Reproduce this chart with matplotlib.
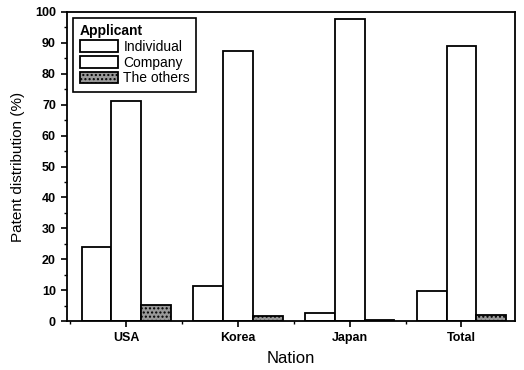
import matplotlib
matplotlib.use("Agg")
import matplotlib.pyplot as plt
import numpy as np
from matplotlib.ticker import MultipleLocator

plt.rcParams['font.family'] = ['Liberation Sans', 'DejaVu Sans']
plt.rcParams['hatch.linewidth'] = 1.0

nations = ["USA", "Korea", "Japan", "Total"]
individual = [24.0, 11.3, 2.5, 9.9]
company = [71.3, 87.2, 97.6, 89.0]
others = [5.2, 1.8, 0.3, 2.0]

fig = plt.figure(figsize=(5.24, 3.70), dpi=100)
ax = fig.add_axes([0.128, 0.132, 0.855, 0.836])

x = np.arange(len(nations))
w = 0.266
ax.bar(x - w, individual, w, color="white", edgecolor="black", lw=1.3, label="Individual")
ax.bar(x, company, w, color="white", edgecolor="black", lw=1.3, label="Company")
ax.bar(x + w, others, w, color="0.6", edgecolor="black", lw=1.3, hatch="....", label="The others")

ax.set_xlim(-0.53, 3.48)
ax.set_ylim(0, 100)
ax.set_xticks(x)
ax.set_xticklabels(nations, fontweight="bold", fontsize=9)
ax.xaxis.set_minor_locator(MultipleLocator(0.5))
ax.yaxis.set_major_locator(MultipleLocator(10))
ax.yaxis.set_minor_locator(MultipleLocator(5))
for lab in ax.get_yticklabels():
    lab.set_fontweight("bold")
    lab.set_fontsize(9)
ax.tick_params(which="major", direction="out", length=4, width=1.2, pad=4)
ax.tick_params(which="minor", direction="out", length=2, width=1)
for s in ax.spines.values():
    s.set_linewidth(1.3)

ax.set_xlabel("Nation", fontsize=12, labelpad=5)
ax.set_ylabel("Patent distribution (%)", fontsize=11, labelpad=7)

leg = ax.legend(loc="upper left", title="Applicant", fontsize=10, fancybox=False,
                edgecolor="black", handlelength=2.8, handleheight=0.9,
                borderaxespad=0.45, labelspacing=0.12, handletextpad=0.35,
                borderpad=0.45, alignment="left")
leg.get_title().set_fontweight("bold")
leg.get_title().set_fontsize(10)
leg.get_frame().set_linewidth(1.2)
leg.get_frame().set_alpha(1)

fig.savefig("out.png", dpi=100)
